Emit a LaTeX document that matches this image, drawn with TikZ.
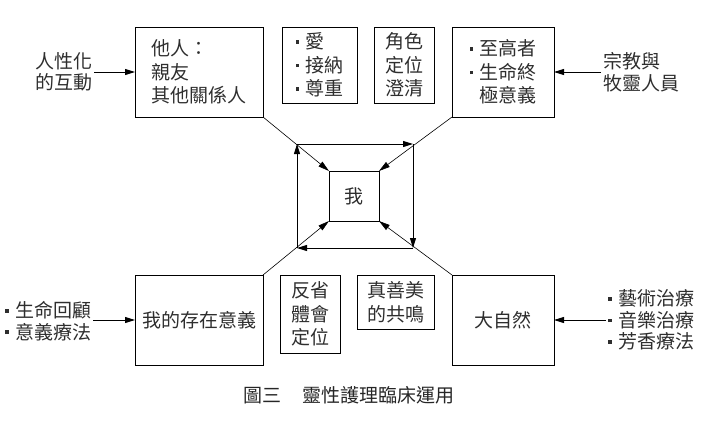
\documentclass[tikz,border=0pt]{standalone}
\usepackage{fontspec}
\setmainfont{Noto Sans CJK TC}
\usetikzlibrary{arrows.meta}
\newcommand\bul{\makebox[10pt][l]{\rule[5pt]{3.6pt}{3.6pt}}}
\begin{document}
\begin{tikzpicture}[x=1pt,y=-1pt,
  box/.style={draw=black, text=black!82, line width=1pt, inner sep=0pt, outer sep=0pt, align=left,
    font=\fontsize{19}{23.5}\selectfont},
  cbox/.style={box, align=center},
  lbl/.style={text=black!82, inner sep=2pt, outer sep=0pt, align=left, font=\fontsize{19}{21.5}\selectfont},
  tip/.style={-{Triangle[length=10pt,width=6pt]}, line width=0.9pt},
  diag/.style={-{Triangle[length=11pt,width=6pt]}, line width=0.6pt},
  captext/.style={text=black!85, inner sep=0pt, font=\fontsize{19}{21}\selectfont}]
\useasboundingbox (0,0) rectangle (725,423);
% top row
\node[box, minimum width=128pt, minimum height=90pt] (other) at (199,72) {他人：\\親友\\其他關係人};
\node[box, minimum width=75pt, minimum height=76pt] (love) at (319.5,65) {\bul 愛\\\bul 接納\\\bul 尊重};
\node[cbox, minimum width=60pt, minimum height=76pt] (role) at (404,65) {角色\\定位\\澄清};
\node[box, minimum width=102pt, minimum height=90pt] (supreme) at (503,72) {\bul 至高者\\\bul 生命終\\\hphantom{\bul}極意義};
% bottom row
\node[cbox, minimum width=128pt, minimum height=90pt] (exist) at (199,320) {我的存在意義};
\node[cbox, minimum width=60pt, minimum height=78pt] (reflect) at (310,314) {反省\\體會\\定位};
\node[cbox, minimum width=77pt, minimum height=54pt] (truth) at (395.5,302) {真善美\\的共鳴};
\node[cbox, minimum width=102pt, minimum height=90pt] (nature) at (503,320) {大自然};
% centre
\node[cbox, minimum width=50pt, minimum height=50pt] (me) at (354,196) {我};
\coordinate (TL) at (297,144);
\coordinate (TR) at (413,144);
\coordinate (BR) at (413,248);
\coordinate (BL) at (297,248);
\draw[tip] (TL) -- (TR);
\draw[tip] (TR) -- (BR);
\draw[tip] (BR) -- (BL);
\draw[tip] (BL) -- (TL);
\draw[diag] (other.south east) -- (me.north west);
\draw[diag] (supreme.south west) -- (me.north east);
\draw[diag] (exist.north east) -- (me.south west);
\draw[diag] (nature.north west) -- (me.south east);
% outside labels
\node[lbl, anchor=west] (lt) at (33,72) {人性化\\的互動};
\node[lbl, anchor=west] (rt) at (601,72) {宗教與\\牧靈人員};
\node[lbl, anchor=west] (lb) at (3,321) {\bul 生命回顧\\\bul 意義療法};
\node[lbl, anchor=west] (rb) at (606,320) {\bul 藝術治療\\\bul 音樂治療\\\bul 芳香療法};
\draw[tip] (lt.east |- other.west) -- (other.west);
\draw[tip] (rt.west |- supreme.east) -- (supreme.east);
\draw[tip] (lb.east |- exist.west) -- (exist.west);
\draw[tip] (rb.west |- nature.east) -- (nature.east);
% caption
\node[captext] (caption) at (349,395) {圖三\hspace{1.1em}靈性護理臨床運用};
\end{tikzpicture}
\end{document}
